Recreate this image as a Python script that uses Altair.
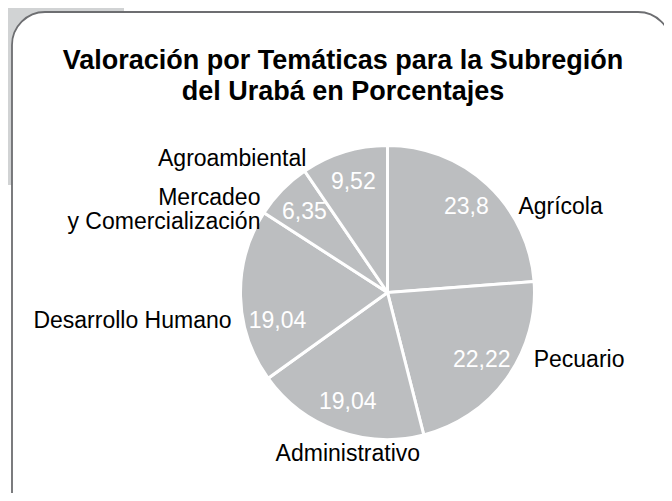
import altair as alt
import pandas as pd

# ---- data ----
categories = ["Agrícola", "Pecuario", "Administrativo", "Desarrollo Humano",
              "Mercadeo\ny Comercialización", "Agroambiental"]
values = [23.8, 22.22, 19.04, 19.04, 6.35, 9.52]
title_lines = ["Valoración por Temáticas para la Subregión", "del Urabá en Porcentajes"]

labels = [str(v).replace(".", ",") for v in values]
df = pd.DataFrame({"idx": list(range(len(values))), "Categoria": categories,
                   "Valor": values, "Etiqueta": labels})
total = sum(values)

W, H = 656, 485
CX, CY, R = 379.5, 284.5, 147
FONT = "Liberation Sans"
one = pd.DataFrame({"k": [0]})

gray = alt.Chart(one).mark_rect(fill="#d1d3d4").encode(
    x=alt.value(0), x2=alt.value(116), y=alt.value(0), y2=alt.value(177))
box = alt.Chart(one).mark_rect(fill="white", stroke="#6d6e71", strokeWidth=1.8,
                               cornerRadius=33).encode(
    x=alt.value(4), x2=alt.value(663), y=alt.value(4), y2=alt.value(520))
title = alt.Chart(one).mark_text(text=title_lines, font=FONT, fontSize=27,
                                 fontWeight="bold", color="black", align="center",
                                 baseline="alphabetic", lineHeight=31).encode(
    x=alt.value(335), y=alt.value(61))

theta_scale = alt.Scale(domain=[0, total])

pie = alt.Chart(df).mark_arc(outerRadius=R, fill="#bcbec0", stroke="white",
                             strokeWidth=3).encode(
    theta=alt.Theta("Valor:Q", stack=True, scale=theta_scale),
    order=alt.Order("idx:Q"),
    x=alt.value(CX), y=alt.value(CY))

base_txt = alt.Chart(df).transform_window(
    cum="sum(Valor)", sort=[alt.SortField("idx")], frame=[None, 0]
).transform_calculate(mid="datum.cum - datum.Valor/2")

theta_mid = alt.Theta("mid:Q", stack=False, scale=theta_scale)


def val_layer(cats, **kw):
    return base_txt.transform_filter(
        alt.FieldOneOfPredicate(field="Categoria", oneOf=cats)
    ).mark_text(font=FONT, fontSize=23, color="white", radius=116,
                align="center", baseline="middle", **kw).encode(
        theta=theta_mid, text="Etiqueta:N", x=alt.value(CX), y=alt.value(CY))


def cat_layer(cats, **kw):
    return base_txt.transform_filter(
        alt.FieldOneOfPredicate(field="Categoria", oneOf=cats)
    ).mark_text(font=FONT, fontSize=23, color="black", radius=116, lineBreak="\n",
                lineHeight=24, baseline="middle", **kw).encode(
        theta=theta_mid, text="Categoria:N", x=alt.value(CX), y=alt.value(CY))


val_main = val_layer(["Agrícola", "Pecuario", "Administrativo", "Agroambiental",
                      "Mercadeo\ny Comercialización"])
val_dh = val_layer(["Desarrollo Humano"], dx=6, dy=26)

right_lbl = cat_layer(["Agrícola", "Pecuario"], align="left", dx=52)
left_lbl = cat_layer(["Desarrollo Humano"], align="right", dx=-40, dy=26)
merc_lbl = cat_layer(["Mercadeo\ny Comercialización"], align="right", dx=-44, dy=-14)
bottom_lbl = cat_layer(["Administrativo"], align="center", dy=52)
top_lbl = cat_layer(["Agroambiental"], align="right", dx=-47, dy=-23)

chart = alt.layer(gray, box, title, pie, val_main, val_dh, right_lbl,
                  left_lbl, merc_lbl, bottom_lbl, top_lbl).properties(
    width=W, height=H, autosize=alt.AutoSizeParams(type="none"), padding=0
).configure_view(stroke=None)

chart.save("out.html", embed_options={"renderer": "svg", "actions": False})
